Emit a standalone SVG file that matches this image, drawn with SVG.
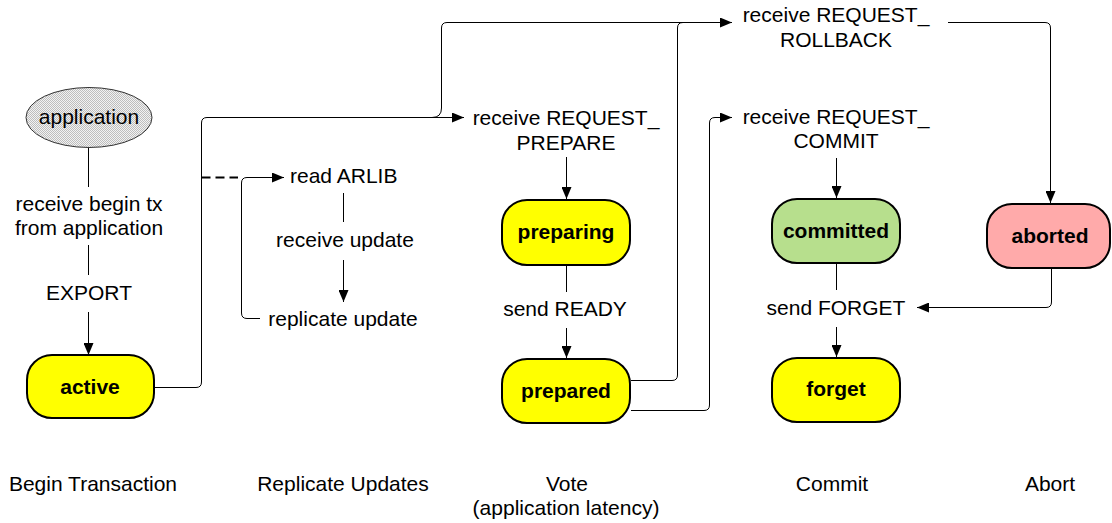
<svg xmlns="http://www.w3.org/2000/svg" width="1112" height="523" viewBox="0 0 1112 523">
<defs>
<style>
text{font-family:"Liberation Sans",Arial,sans-serif;font-size:21px;fill:#000;text-anchor:middle}
.b{font-weight:bold}
.st{stroke:#000;stroke-width:2}
.c{fill:none;stroke:#000;stroke-width:1}
.a{marker-end:url(#arr)}
.d{fill:none;stroke:#000;stroke-width:2;stroke-dasharray:9,5}
</style>
<marker id="arr" markerUnits="userSpaceOnUse" markerWidth="12" markerHeight="10" refX="12" refY="5" orient="auto">
<path d="M0,0 L12,5 L0,10 Z" fill="#000"/>
</marker>
<pattern id="dots" width="2" height="2" patternUnits="userSpaceOnUse">
<rect width="2" height="2" fill="#f2f2f2"/>
<rect width="1" height="1" fill="#bdbdbd"/>
<rect x="1" y="1" width="1" height="1" fill="#bdbdbd"/>
</pattern>
</defs>
<rect width="1112" height="523" fill="#fff"/>

<g id="connectors">
<path class="c" d="M88.5,148 V187"/>
<path class="c" d="M88.5,245 V275"/>
<path class="c a" d="M88.5,312 V355"/>
<path class="c a" d="M154,387.5 H196 Q201.5,387.5 201.5,382 V123 Q201.5,117.5 207,117.5 H464"/>
<path class="c" d="M432,117.5 Q441.5,117.5 441.5,108 V28 Q441.5,22.5 447,22.5 H720"/>
<path class="d" d="M201.5,177.5 H238"/>
<path class="c a" d="M260,318.5 H247 Q241.5,318.5 241.5,313 V183 Q241.5,177.5 247,177.5 H284"/>
<path class="c" d="M343.5,193 V222"/>
<path class="c a" d="M343.5,260 V302"/>
<path class="c a" d="M566.5,157 V199"/>
<path class="c" d="M566.5,266 V292"/>
<path class="c a" d="M566.5,328 V358"/>
<path class="c a" d="M631,380.5 H672 Q677.5,380.5 677.5,375 V28 Q677.5,22.5 683,22.5 H732"/>
<path class="c a" d="M631,410.5 H704 Q709.5,410.5 709.5,405 V123 Q709.5,117.5 715,117.5 H732"/>
<path class="c a" d="M836.5,158 V198"/>
<path class="c" d="M836.5,264 V290"/>
<path class="c a" d="M836.5,327 V357"/>
<path class="c a" d="M948,22.5 H1045 Q1050.5,22.5 1050.5,28 V203"/>
<path class="c a" d="M1051.5,269 V302 Q1051.5,307.5 1046,307.5 H917"/>
</g>

<g id="application">
<ellipse cx="89" cy="117.5" rx="63" ry="30" fill="url(#dots)" stroke="#333" stroke-width="1"/>
<text x="89" y="124">application</text>
</g>
<g id="label-begin">
<text x="89" y="211">receive begin tx</text>
<text x="89" y="235">from application</text>
<text x="89" y="300">EXPORT</text>
</g>
<g id="active">
<rect class="st" x="27" y="355" width="127" height="63" rx="25" fill="#ffff00"/>
<text class="b" x="90" y="394">active</text>
</g>
<g id="read-arlib">
<text x="290" y="183" style="text-anchor:start">read ARLIB</text>
</g>
<g id="receive-update"><text x="345" y="247">receive update</text></g>
<g id="replicate-update"><text x="343" y="326">replicate update</text></g>
<g id="req-prepare">
<text x="566" y="125">receive REQUEST_</text>
<text x="566" y="150">PREPARE</text>
</g>
<g id="preparing">
<rect class="st" x="502" y="200" width="128" height="65" rx="25" fill="#ffff00"/>
<text class="b" x="566" y="239">preparing</text>
</g>
<g id="send-ready"><text x="565" y="316">send READY</text></g>
<g id="prepared">
<rect class="st" x="502" y="359" width="128" height="64" rx="25" fill="#ffff00"/>
<text class="b" x="566" y="398">prepared</text>
</g>
<g id="req-rollback">
<text x="836" y="22">receive REQUEST_</text>
<text x="836" y="47">ROLLBACK</text>
</g>
<g id="req-commit">
<text x="836" y="124">receive REQUEST_</text>
<text x="836" y="148">COMMIT</text>
</g>
<g id="committed">
<rect class="st" x="772" y="199" width="128" height="64" rx="25" fill="#b7df8d"/>
<text class="b" x="836" y="238">committed</text>
</g>
<g id="send-forget"><text x="836" y="315">send FORGET</text></g>
<g id="forget">
<rect class="st" x="772" y="358" width="128" height="64" rx="25" fill="#ffff00"/>
<text class="b" x="836" y="396">forget</text>
</g>
<g id="aborted">
<rect class="st" x="987" y="204" width="123" height="64" rx="25" fill="#ffaaaa"/>
<text class="b" x="1050" y="243">aborted</text>
</g>
<g id="phases">
<text x="93" y="491">Begin Transaction</text>
<text x="343" y="491">Replicate Updates</text>
<text x="567" y="491">Vote</text>
<text x="566" y="515">(application latency)</text>
<text x="832" y="491">Commit</text>
<text x="1050" y="491">Abort</text>
</g>
</svg>
